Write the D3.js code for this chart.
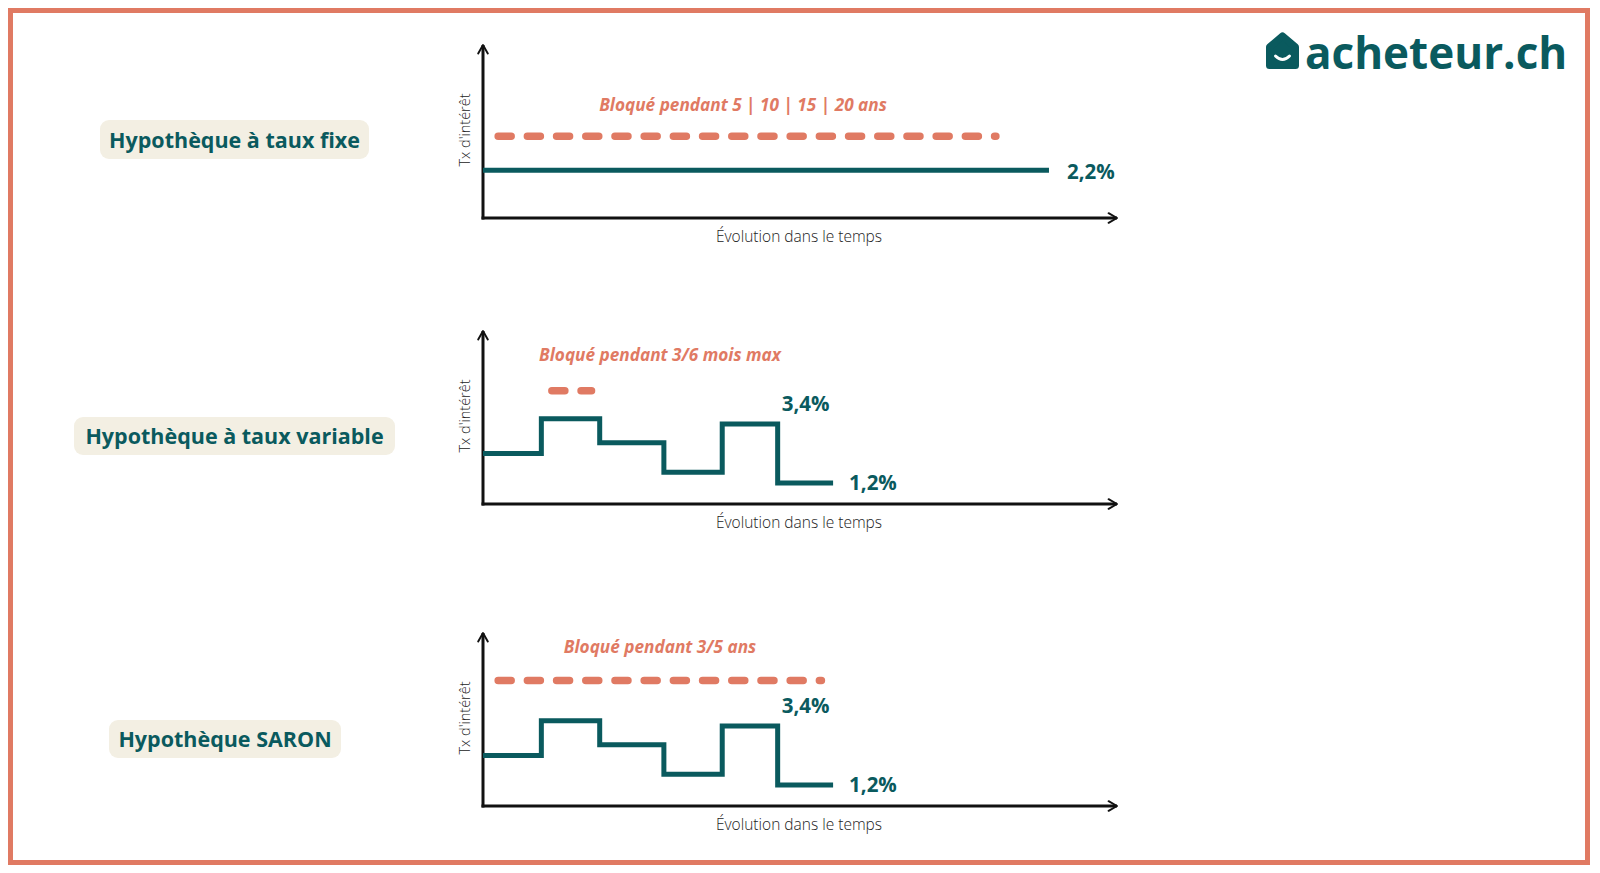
<!DOCTYPE html>
<html>
<head>
<meta charset="utf-8">
<script src="https://cdn.jsdelivr.net/npm/d3@7"></script>
<style>
  body { margin: 0; background: #fff; }
  svg { display: block; }
</style>
</head>
<body>
<script>
const width = 1600;
const height = 873;

const teal = "#0a5a5e";
const coral = "#e07a63";
const beige = "#f3efe3";

// data
const productNames = ["Hypothèque à taux fixe", "Hypothèque à taux variable", "Hypothèque SARON"];
const lockLabels = ["Bloqué pendant 5 | 10 | 15 | 20 ans", "Bloqué pendant 3/6 mois max", "Bloqué pendant 3/5 ans"];
const fixedTimes = [0, 9.7];
const fixedRate = 2.2;
const stepTimes = [0, 1, 2, 3.1, 4.1, 5.05, 6];
const variableRates = [2.3, 3.6, 2.7, 1.6, 3.4, 1.2];
const saronRates = [2.3, 3.6, 2.7, 1.6, 3.4, 1.2];
const lockStart = [0.2, 1.12, 0.2];
const lockEnd = [8.85, 1.92, 5.86];
const lockLevel = [3.47, 4.64, 5.1];
const yAxisLabel = "Tx d'intérêt";
const xAxisLabel = "Évolution dans le temps";

// layout of the three panels
const panels = [
    { axisY: 218, top: 43, badge: [100, 120, 269, 39], titleX: 743, titleDy: -31 },
    { axisY: 504, top: 329, badge: [74, 417, 321, 38], titleX: 660, titleDy: -36 },
    { axisY: 806, top: 631, badge: [109, 720, 232, 38], titleX: 660, titleDy: -33 }
];

const svg = d3.select("body")
    .append("svg")
    .attr("width", width)
    .attr("height", height);

// frame
svg.append("rect")
    .attr("x", 10.5).attr("y", 10.5)
    .attr("width", 1577).attr("height", 852)
    .attr("fill", "none")
    .attr("stroke", coral)
    .attr("stroke-width", 5);

const defs = svg.append("defs");
defs.append("marker")
    .attr("id", "arrow")
    .attr("viewBox", "0 0 10 10")
    .attr("refX", 8).attr("refY", 5)
    .attr("markerWidth", 4).attr("markerHeight", 4)
    .attr("orient", "auto")
    .attr("markerUnits", "strokeWidth")
    .append("path")
    .attr("d", "M1,1 L8,5 L1,9")
    .attr("fill", "none")
    .attr("stroke", "#111")
    .attr("stroke-width", 1.6)
    .attr("stroke-linecap", "round")
    .attr("stroke-linejoin", "round");

const x = d3.scaleLinear().domain([0, 10.9]).range([483, 1119]);

const stepLine = d3.line()
    .curve(d3.curveStepAfter);

panels.forEach(function (p, i) {
    const y = d3.scaleLinear().domain([0.42, 6.94]).range([p.axisY, p.top]);
    const g = svg.append("g");

    // badge
    g.append("rect")
        .attr("x", p.badge[0]).attr("y", p.badge[1])
        .attr("width", p.badge[2]).attr("height", p.badge[3])
        .attr("rx", 9)
        .attr("fill", beige);
    g.append("text")
        .attr("x", p.badge[0] + p.badge[2] / 2)
        .attr("y", p.badge[1] + p.badge[3] / 2)
        .attr("dy", "0.38em")
        .attr("text-anchor", "middle")
        .attr("font-family", "'Open Sans', sans-serif")
        .attr("font-weight", 700)
        .attr("font-size", 21.5)
        .attr("fill", teal)
        .text(productNames[i]);

    // axes
    g.append("line")
        .attr("x1", x(0)).attr("y1", p.axisY + 1.5)
        .attr("x2", x(0)).attr("y2", p.top + 2)
        .attr("stroke", "#111").attr("stroke-width", 3)
        .attr("marker-end", "url(#arrow)");
    g.append("line")
        .attr("x1", x(0) - 1.5).attr("y1", p.axisY)
        .attr("x2", x.range()[1] - 2).attr("y2", p.axisY)
        .attr("stroke", "#111").attr("stroke-width", 3)
        .attr("marker-end", "url(#arrow)");

    g.append("text")
        .attr("transform", `translate(${x(0) - 13},${p.axisY - 88}) rotate(-90)`)
        .attr("text-anchor", "middle")
        .attr("font-family", "'Open Sans', sans-serif")
        .attr("font-weight", 300)
        .attr("font-size", 14.5)
        .attr("fill", "#222")
        .text(yAxisLabel);
    g.append("text")
        .attr("x", 799)
        .attr("y", p.axisY + 19)
        .attr("dy", "0.35em")
        .attr("text-anchor", "middle")
        .attr("font-family", "'Open Sans', sans-serif")
        .attr("font-weight", 300)
        .attr("font-size", 15.5)
        .attr("fill", "#222")
        .text(xAxisLabel);

    // locked period (dashed)
    const ly = y(lockLevel[i]);
    g.append("line")
        .attr("x1", x(lockStart[i]) + 3.5).attr("y1", ly)
        .attr("x2", x(lockEnd[i]) - 3.5).attr("y2", ly)
        .attr("stroke", coral)
        .attr("stroke-width", 7.5)
        .attr("stroke-linecap", "round")
        .attr("stroke-dasharray", "13 16.2");
    g.append("text")
        .attr("x", p.titleX)
        .attr("y", ly + p.titleDy)
        .attr("dy", "0.35em")
        .attr("text-anchor", "middle")
        .attr("font-family", "'Open Sans', sans-serif")
        .attr("font-weight", 700)
        .attr("font-style", "italic")
        .attr("font-size", 17.2)
        .attr("fill", coral)
        .text(lockLabels[i]);

    const lbl = (sel, tx, ty, s) => sel.append("text")
        .attr("x", tx).attr("y", ty)
        .attr("dy", "0.36em")
        .attr("font-family", "'Open Sans', sans-serif")
        .attr("font-weight", 700)
        .attr("font-size", 20.5)
        .attr("fill", teal)
        .text(s);

    if (i === 0) {
        g.append("path")
            .attr("d", stepLine(fixedTimes.map(t => [x(t), y(fixedRate)])))
            .attr("fill", "none")
            .attr("stroke", teal)
            .attr("stroke-width", 5);
        lbl(g, x(fixedTimes[1]) + 18, y(fixedRate) + 1, "2,2%");
    } else {
        const rates = i === 1 ? variableRates : saronRates;
        const pts = stepTimes.map((t, k) => [x(t), y(rates[Math.min(k, rates.length - 1)])]);
        g.append("path")
            .attr("d", stepLine(pts))
            .attr("fill", "none")
            .attr("stroke", teal)
            .attr("stroke-width", 5);
        lbl(g, x(stepTimes[5]) + 4, y(rates[4]) - 20, "3,4%");
        lbl(g, x(stepTimes[6]) + 16, y(rates[5]), "1,2%");
    }
});

// logo
const logo = svg.append("g").attr("transform", "translate(1266,33)");
logo.append("path")
    .attr("d", "M3.5,14 L16.5,3 L29.5,14 L29.5,32.5 L3.5,32.5 Z")
    .attr("fill", teal)
    .attr("stroke", teal)
    .attr("stroke-width", 7)
    .attr("stroke-linejoin", "round");
logo.append("path")
    .attr("d", "M9.5,23 Q16.5,30 23.5,23")
    .attr("fill", "none")
    .attr("stroke", "#fff")
    .attr("stroke-width", 3)
    .attr("stroke-linecap", "round");
svg.append("text")
    .attr("x", 1305)
    .attr("y", 53)
    .attr("dy", "0.36em")
    .attr("font-family", "'Open Sans', sans-serif")
    .attr("font-weight", 700)
    .attr("font-size", 44)
    .attr("fill", teal)
    .text("acheteur.ch");
</script>
</body>
</html>
